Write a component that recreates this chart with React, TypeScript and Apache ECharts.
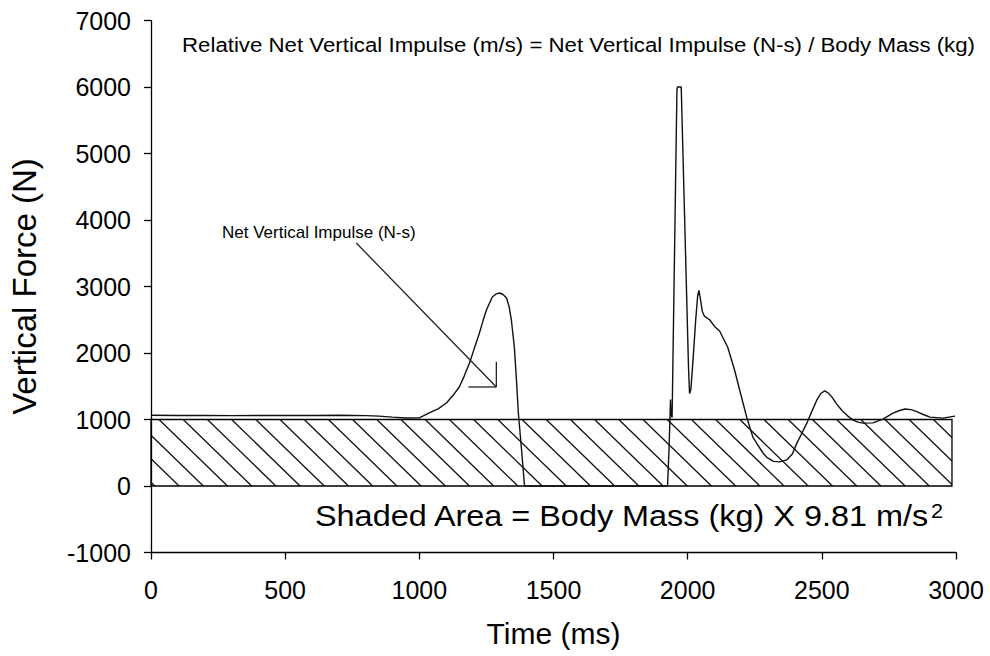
import React, { useEffect, useRef } from "react";
import * as echarts from "echarts";

// ---- data ----
const timeMs: number[] = [
  0, 100, 200, 300, 400, 500, 600, 700, 800, 850, 900, 950, 1000,
  1037, 1070, 1101, 1125, 1149, 1168, 1187, 1205, 1224, 1237, 1250, 1272, 1287, 1299, 1312, 1325, 1335, 1343, 1354, 1362, 1369, 1381, 1392,
  1500, 1700, 1925,
  1930, 1934, 1936, 1938, 1942, 1960, 1962, 1976, 2003, 2007, 2012, 2020, 2030, 2037, 2042, 2048, 2055, 2063, 2082, 2100, 2119, 2149, 2175, 2194, 2220, 2243, 2257, 2280, 2295, 2320, 2343, 2369, 2390, 2407, 2425, 2444, 2462, 2481, 2497, 2511, 2525, 2537, 2555, 2575, 2596, 2616, 2635, 2653, 2690, 2728, 2765, 2790, 2810, 2832, 2854, 2878, 2903, 2951, 2996,
];
const forceN: number[] = [
  1065, 1060, 1062, 1058, 1060, 1062, 1060, 1063, 1058, 1050, 1035, 1022, 1025,
  1098, 1160, 1248, 1360, 1489, 1660, 1850, 2070, 2300, 2480, 2647, 2842, 2890, 2902, 2880, 2827, 2690, 2496, 2090, 1594, 1098, 541, 0,
  0, 0, 0,
  500, 1000, 1300, 1080, 1030, 5960, 6000, 6000, 1800, 1390, 1450, 1900, 2500, 2850, 2940, 2800, 2620, 2550, 2500, 2400, 2330, 2090, 1740, 1440, 1035, 735, 645, 500, 430, 370, 362, 392, 480, 645, 790, 945, 1115, 1290, 1395, 1430, 1395, 1340, 1235, 1135, 1055, 990, 960, 945, 950, 1005, 1095, 1135, 1158, 1148, 1118, 1075, 1035, 1020, 1050,
];

const xTicks = { min: 0, max: 3000, interval: 500 };
const yTicks = { min: -1000, max: 7000, interval: 1000 };

// shaded area: [start ms, end ms, top N, bottom N]
const shadedArea: number[][] = [[0, 2985, 1000, 0]];

// arrow annotation segments in data coords [t1, f1, t2, f2]
const arrowSegments: number[][] = [
  [765, 3654, 1287, 1489],
  [1287, 1870, 1287, 1489],
  [1183, 1489, 1287, 1489],
];

const topText =
  "Relative Net Vertical Impulse (m/s) = Net Vertical Impulse (N-s) / Body Mass (kg)";
const arrowText = "Net Vertical Impulse (N-s)";
const shadedText = "Shaded Area = Body Mass (kg) X 9.81 m/s";

const FONT = "'Liberation Sans', Arial, Helvetica, sans-serif";

export default function App() {
  const ref = useRef<HTMLDivElement>(null);

  useEffect(() => {
    if (!ref.current) return;
    const chart = echarts.init(ref.current, null, { renderer: "svg" });

    const curve = timeMs.map((t, i) => [t, forceN[i]]);

    const option: any = {
      animation: false,
      backgroundColor: "#ffffff",
      grid: { left: 151, right: 34, top: 20.5, bottom: 103.5, containLabel: false },
      xAxis: {
        type: "value",
        min: xTicks.min,
        max: xTicks.max,
        interval: xTicks.interval,
        name: "Time (ms)",
        nameLocation: "middle",
        nameGap: 66,
        nameTextStyle: { fontFamily: FONT, fontSize: 30, color: "#000" },
        axisLine: { onZero: false, lineStyle: { color: "#000", width: 1.3 } },
        axisTick: { show: true, inside: false, length: 7, lineStyle: { color: "#000", width: 1.3 } },
        axisLabel: {
          fontFamily: FONT, fontSize: 25, color: "#000", margin: 25,
          formatter: (v: number) => String(v),
        },
        splitLine: { show: false },
      },
      yAxis: {
        type: "value",
        min: yTicks.min,
        max: yTicks.max,
        interval: yTicks.interval,
        name: "Vertical Force (N)",
        nameLocation: "middle",
        nameRotate: 90,
        nameGap: 110,
        nameTextStyle: { fontFamily: FONT, fontSize: 33, color: "#000" },
        axisLine: { onZero: false, lineStyle: { color: "#000", width: 1.3 } },
        axisTick: { show: true, inside: false, length: 7, lineStyle: { color: "#000", width: 1.3 } },
        axisLabel: {
          fontFamily: FONT, fontSize: 25, color: "#000", margin: 20,
          formatter: (v: number) => String(v),
        },
        splitLine: { show: false },
      },
      series: [
        {
          type: "custom",
          silent: true,
          clip: false,
          z: 1,
          encode: { x: [0, 1], y: [2, 3] },
          data: shadedArea,
          renderItem: (params: any, api: any) => {
            const p0 = api.coord([api.value(0), api.value(2)]);
            const p1 = api.coord([api.value(1), api.value(3)]);
            const L = p0[0], T = p0[1], R = p1[0], B = p1[1];
            const H = B - T;
            const s = 1.03; // dx per dy
            const gap = 24.2;
            const phase = 8;
            const children: any[] = [];
            let c = L + phase - Math.ceil((s * H) / gap) * gap;
            for (; c < R; c += gap) {
              const xb = c + s * H;
              if (xb <= L) continue;
              let x1 = c, y1 = T;
              if (c < L) { x1 = L; y1 = T + (L - c) / s; }
              let x2 = xb, y2 = B;
              if (xb > R) { x2 = R; y2 = T + (R - c) / s; }
              children.push({
                type: "line",
                shape: { x1, y1, x2, y2 },
                style: { stroke: "#111", lineWidth: 1.3 },
              });
            }
            children.push({
              type: "rect",
              shape: { x: L, y: T, width: R - L, height: H },
              style: { fill: "none", stroke: "#000", lineWidth: 1.3 },
            });
            return { type: "group", children };
          },
        },
        {
          type: "custom",
          silent: true,
          clip: false,
          z: 2,
          encode: { x: [0, 2], y: [1, 3] },
          data: arrowSegments,
          renderItem: (params: any, api: any) => {
            const a = api.coord([api.value(0), api.value(1)]);
            const b = api.coord([api.value(2), api.value(3)]);
            return {
              type: "line",
              shape: { x1: a[0], y1: a[1], x2: b[0], y2: b[1] },
              style: { stroke: "#222", lineWidth: 1.3 },
            };
          },
        },
        {
          type: "line",
          data: curve,
          showSymbol: false,
          symbol: "none",
          smooth: false,
          z: 3,
          lineStyle: { color: "#111", width: 1.4 },
        },
      ],
      graphic: [
        {
          type: "text",
          x: 182,
          y: 45,
          scaleX: 1.06,
          style: {
            text: topText,
            fontFamily: FONT,
            fontSize: 21,
            fill: "#000",
            textVerticalAlign: "middle",
          },
        },
        {
          type: "text",
          x: 222,
          y: 232,
          style: {
            text: arrowText,
            fontFamily: FONT,
            fontSize: 17,
            fill: "#000",
            textVerticalAlign: "middle",
          },
        },
        {
          type: "text",
          x: 315,
          y: 516,
          scaleX: 1.08,
          style: {
            text: "{a|" + shadedText + "}{b|2}",
            fontFamily: FONT,
            fill: "#000",
            textVerticalAlign: "middle",
            rich: {
              a: { fontFamily: FONT, fontSize: 30, fill: "#000", color: "#000" },
              b: { fontFamily: FONT, fontSize: 20, fill: "#000", color: "#000", verticalAlign: "top", padding: [0, 0, 10, 1] },
            },
          },
        },
      ],
    };

    chart.setOption(option);
    return () => chart.dispose();
  }, []);

  return (
    <div
      ref={ref}
      style={{ position: "fixed", left: 0, top: 0, width: 990, height: 656 }}
    />
  );
}
